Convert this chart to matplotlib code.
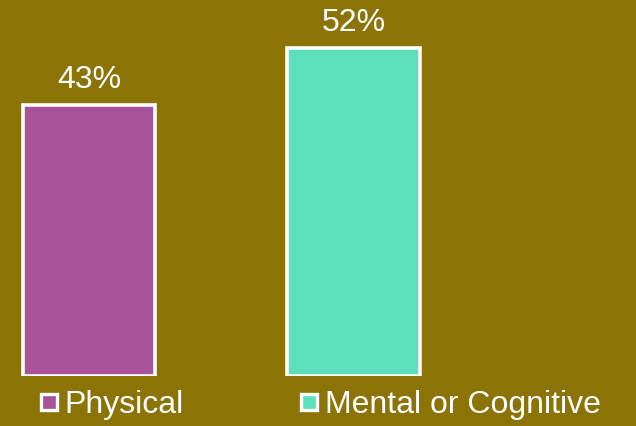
import matplotlib.pyplot as plt
from matplotlib.lines import Line2D

categories = ["Physical", "Mental or Cognitive"]
values = [43, 52]
colors = ["#A8529A", "#5BE0BB"]
bg = "#8B7306"

plt.rcParams['font.family'] = ['Liberation Sans', 'DejaVu Sans']

fig = plt.figure(figsize=(6.36, 4.26), dpi=100, facecolor=bg)
ax = fig.add_axes([0, 1 - 376 / 426, 1, 376 / 426])
ax.set_facecolor(bg)

x = range(len(values))
ax.bar(x, values, width=0.5, color=colors, edgecolor="white", linewidth=2.6)
for xi, v in zip(x, values):
    ax.text(xi, v + 2.7, f"{v}%", ha="center", va="baseline", color="white", fontsize=23)

ax.set_xlim(-0.3365, 2.068)
ax.set_ylim(0, 59.7)
ax.axis("off")

handles = [Line2D([], [], marker="s", linestyle="none", markersize=12,
                  markerfacecolor=c, markeredgecolor="white", markeredgewidth=2.4)
           for c in colors]
fig.legend(handles, categories, loc="center left", bbox_to_anchor=(0.034, 1 - 405 / 426),
           ncol=2, frameon=False, fontsize=23, labelcolor="white",
           handletextpad=0.15, columnspacing=3.55, handlelength=0.7, borderpad=0)

fig.savefig("out.png", dpi=100, facecolor=bg)
